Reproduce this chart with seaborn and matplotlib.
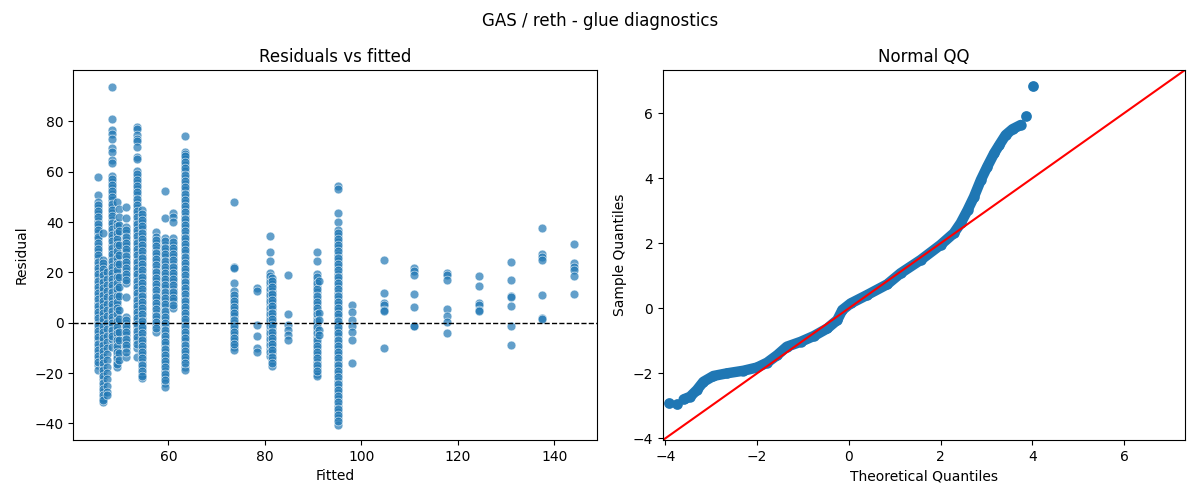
import matplotlib
matplotlib.use("Agg")
import matplotlib.pyplot as plt
import seaborn as sns
import pandas as pd

# ---------------- data: residuals vs fitted ----------------
fitted_levels = [45.5, 46.5, 47.3, 48.3, 49.3, 49.8, 51.2, 53.5, 54.5, 57.5,
                 59.3, 61.0, 63.5, 73.5, 78.3, 81.0, 81.5, 84.7, 90.9, 91.3,
                 95.1, 98.0, 104.6, 111.0, 117.7, 124.3, 131.0, 137.4, 144.0]

res_45_5 = [58.0, 50.7, 48.0, 45.5, 43.0, 40.6, 38.0, 35.5, 33.1, 30.4, 28.0, 25.6, 23.0, 20.5,
            18.1, 15.4, 13.0, 10.6, 8.0, 5.5, 3.1, 0.4, -2.0, -4.6, -7.0, -9.5, -12.1, -14.4,
            -17.0, -18.8,
            46.7, 44.2, 41.8, 39.3, 36.8, 34.2, 31.7, 29.2, 26.8, 24.3, 21.8, 19.3, 16.7, 14.2,
            11.8, 9.3, 6.8, 4.3, 1.7, -0.8, -3.3, -5.8, -8.3, -10.8, -13.2, -15.7]
res_46_5 = [35.5, 24.9, 22.4, 20.0, 17.5, 15.1, 12.4, 10.0, 7.6, 5.0, 2.5, 0.1, -2.6, -5.0,
            -7.4, -10.0, -12.5, -15.0, -17.4, -20.0, -22.5, -25.1, -27.4, -29.9, -31.4,
            23.7, 21.2, 18.8, 16.3, 13.7, 11.2, 8.8, 6.3, 3.7, 1.3, -1.2, -3.8, -6.2, -8.7,
            -11.3, -13.7, -16.2, -18.7, -21.3, -23.8, -26.2, -28.6, -30.7]
res_47_3 = [20.1, 17.4, 15.0, 12.5, 10.1, 7.4, 5.0, 2.6, 0.0, -2.5, -5.1, -7.5, -10.0, -12.4,
            -15.0, -17.6, -20.0, -22.4, -25.0, -27.5, -28.7]
res_48_3 = [93.6, 81.0, 76.5, 75.0, 72.8, 69.5, 68.0, 64.5, 63.3, 58.4, 56.0, 53.5, 51.1, 48.6,
            46.0, 43.5, 41.0, 38.6, 36.1, 33.5, 31.0, 28.6, 26.0, 23.5, 21.1, 18.5, 16.0, 13.6,
            11.0, 8.5, 6.1, 3.5, 1.0, -1.5, -4.0, -6.5, -9.5,
            57.2, 54.7, 52.3, 49.8, 47.3, 44.7, 42.3, 39.8, 37.3, 34.8, 32.3, 29.8, 27.3, 24.7,
            22.3, 19.8, 17.3, 14.8, 12.3, 9.7, 7.3, 4.8, 2.2, -0.3, -2.8, -5.2]
res_49_3 = [48.1, 39.6, 37.0, 34.6, 32.0, 29.5, 27.1, 24.5, 22.0, 19.6, 17.0, 14.5, 12.1, 9.5,
            7.0, 4.6, 2.0, -0.5, -3.0, -5.5, -8.0, -10.5, -13.0, -15.5, -17.5,
            38.3, 35.8, 33.3, 30.8, 28.3, 25.8, 23.2, 20.8, 18.3, 15.7, 13.3, 10.8, 8.3, 5.8,
            3.3, 0.8, -1.7, -4.2, -6.8, -9.2, -11.7, -14.2, -16.5]
res_49_8 = [45.0, 42.0, 39.0, 36.5, 31.0, 27.0, 23.5, 18.0, 14.0, 10.5, 5.0, 1.5, -3.5, -7.0,
            -12.0, -15.0]
res_51_2 = [46.0, 41.6, 38.0, 35.5, 33.0, 30.6, 28.0, 25.5, 23.1, 20.5, 18.0, 15.6, 10.3, 2.4,
            0.0, -2.5, -5.0, -7.6, -10.0, -13.5,
            36.8, 34.2, 31.8, 29.3, 26.7, 24.3, 21.8, 19.2, 16.8, 1.2, -1.3, -3.7, -6.3, -8.8,
            -11.7]
res_53_5 = [77.9, 77.0, 74.5, 73.0, 72.0, 70.0, 66.0, 65.0, 60.1, 58.0, 55.5, 53.0, 50.6, 48.0,
            45.5, 43.1, 40.5, 38.0, 35.6, 33.0, 30.5, 28.1, 25.5, 23.0, 20.6, 18.0, 15.5, 13.1,
            10.5, 8.0, 5.6, 3.0, 0.5, -1.9, -4.5, -7.0, -10.0, -13.5,
            59.0, 56.7, 54.2, 51.8, 49.3, 46.7, 44.3, 41.8, 39.2, 36.8, 34.3, 31.7, 29.3, 26.8,
            24.2, 21.8, 19.3, 16.7, 14.3, 11.8, 9.2, 6.8, 4.3, 1.7, -0.7, -3.2, -5.8, -8.5]
res_54_5 = [44.8, 42.0, 39.5, 37.1, 34.5, 32.0, 29.6, 27.0, 24.5, 22.1, 19.5, 17.0, 14.6, 12.0,
            9.5, 7.1, 4.5, 2.0, -0.4, -3.0, -5.5, -8.0, -10.5, -13.0, -15.5, -18.0, -20.5, -22.0,
            43.3, 40.8, 38.3, 35.8, 33.3, 30.8, 28.3, 25.8, 23.3, 20.8, 18.3, 15.8, 13.3, 10.8,
            8.3, 5.8, 3.3, 0.8, -1.7, -4.2, -6.7, -9.2, -11.7, -14.2, -16.7, -19.2, -21.3]
res_57_5 = [36.2, 34.2, 31.6, 29.0, 26.5, 24.1, 21.5, 19.0, 16.6, 14.0, 11.5, 9.1, 6.5, 4.0,
            1.6, -1.0, -3.6,
            32.9, 30.3, 27.8, 25.3, 22.8, 20.3, 17.8, 15.3, 12.8, 10.3, 7.8, 5.3, 2.8, 0.3, -2.3]
res_59_3 = [52.3, 41.5, 33.5, 31.0, 28.6, 26.0, 23.5, 21.1, 18.5, 16.0, 13.6, 11.0, 8.5, 6.1,
            3.5, 1.0, -1.4, -4.0, -6.5, -9.0, -11.5, -14.0, -16.5, -19.0, -21.5, -24.0, -25.5,
            32.3, 29.8, 27.3, 24.7, 22.3, 19.8, 17.3, 14.8, 12.3, 9.7, 7.3, 4.8, 2.3, -0.2,
            -2.7, -5.2, -7.7, -10.3, -12.7, -15.2, -17.7, -20.3, -22.7]
res_61_0 = [43.6, 42.0, 40.1, 33.5, 31.0, 28.5, 26.1, 23.5, 21.0, 18.6, 16.0, 13.5, 11.1, 8.5, 5.7,
            32.2, 29.7, 27.3, 24.8, 22.3, 19.8, 17.3, 14.8, 12.3, 9.8, 7.1]
res_63_5 = [74.2, 67.7, 67.0, 65.0, 62.5, 60.1, 57.5, 55.0, 52.6, 50.0, 47.5, 45.1, 42.5, 40.0,
            37.6, 35.0, 32.5, 30.1, 27.5, 25.0, 22.6, 20.0, 17.5, 15.1, 12.5, 10.0, 7.6, 5.0,
            2.5, 0.1, -2.5, -5.0, -7.4, -10.0, -12.5, -15.0, -17.4, -18.8,
            66.2, 63.8, 61.3, 58.8, 56.2, 53.8, 51.3, 48.8, 46.3, 43.8, 41.3, 38.8, 36.3, 33.8,
            31.3, 28.8, 26.3, 23.8, 21.3, 18.8, 16.3, 13.8, 11.3, 8.8, 6.3, 3.8, 1.3, -1.2,
            -3.7, -6.2, -8.7, -11.2, -13.7, -16.2]
res_73_5 = [48.1, 22.2, 21.8, 15.8, 12.4, 10.0, 7.5, 5.1, 2.5, 0.0, -2.5, -5.0, -7.4, -9.5, -11.0,
            11.2, 8.7, 6.3, 3.8, 1.2, -1.2, -3.8, -6.2, -8.4]
res_78_3 = [13.8, 12.4, -0.8, -5.4, -10.1, -11.7]
res_81_0 = [34.6, 28.0, 24.4, 19.7, 17.2, 14.8, 12.2, 9.7, 7.3, 4.8, 2.2, -0.3, -2.7, -5.2,
            -7.8, -10.3, -13.4,
            18.4, 16.0, 13.5, 11.0, 8.5, 6.0, 3.5, 1.0, -1.5, -4.0, -6.5, -9.0, -11.6]
res_81_5 = [17.7, 15.3, 12.7, 10.2, 7.8, 5.3, 2.7, 0.2, -2.3, -4.8, -7.3, -9.7, -12.2, -14.8, -17.1,
            16.5, 14.0, 11.5, 9.0, 6.5, 4.0, 1.5, -1.0, -3.5, -6.0, -8.5, -11.0, -13.5, -16.0]
res_84_7 = [19.0, 3.5, -0.8, -2.8, -5.0, -7.0]
res_90_9 = [27.9, 24.6, 19.5, 17.0, 14.5, 12.1, 9.5, 7.0, 4.6, 2.0, -0.5, -3.0, -5.5, -8.0,
            -10.5, -13.0, -15.5, -18.0, -20.5, -21.0,
            18.3, 15.8, 13.3, 10.8, 8.3, 5.8, 3.3, 0.8, -1.7, -4.2, -6.7, -9.2, -11.7, -14.2,
            -16.7, -19.2]
res_91_3 = [16.7, 3.8, 1.0, -2.8, -4.8]
res_95_1 = [54.4, 53.1, 43.6, 40.2, 37.0, 34.5, 32.1, 29.5, 27.0, 24.6, 22.0, 19.5, 17.1, 14.5,
            12.0, 9.6, 7.0, 4.5, 2.1, -0.5, -3.0, -5.4, -8.0, -10.5, -12.9, -15.5, -18.0, -20.4,
            -23.0, -25.5, -27.9, -30.5, -33.0, -35.4, -38.0, -40.5,
            35.8, 33.3, 30.8, 28.3, 25.8, 23.3, 20.8, 18.3, 15.8, 13.3, 10.8, 8.3, 5.8, 3.3,
            0.8, -1.7, -4.2, -6.7, -9.2, -11.7, -14.2, -16.7, -19.2, -21.7, -24.2, -26.7,
            -29.2, -31.7, -34.2, -36.7, -39.2]
res_98_0 = [7.0, 4.2, 1.2, -1.2, -3.8, -6.9, -15.9]
res_104_6 = [25.0, 11.8, 8.0, 7.0, 5.0, 4.5, -10.1]
res_111_0 = [21.7, 20.4, 19.0, 11.4, 6.2, -1.2, -1.5]
res_117_7 = [19.8, 19.1, 16.8, 5.4, 2.5, 0.2, -4.1]
res_124_3 = [18.7, 14.6, 7.8, 7.0, 5.0, 4.5]
res_131_0 = [24.1, 17.1, 10.5, 10.2, 6.6, -1.3, -8.7]
res_137_4 = [37.6, 27.3, 26.0, 25.0, 11.0, 1.9, 1.4]
res_144_0 = [31.3, 23.7, 22.1, 21.0, 18.7, 11.4]

residual_columns = [res_45_5, res_46_5, res_47_3, res_48_3, res_49_3, res_49_8, res_51_2,
                    res_53_5, res_54_5, res_57_5, res_59_3, res_61_0, res_63_5, res_73_5,
                    res_78_3, res_81_0, res_81_5, res_84_7, res_90_9, res_91_3, res_95_1,
                    res_98_0, res_104_6, res_111_0, res_117_7, res_124_3, res_131_0,
                    res_137_4, res_144_0]

# ---------------- data: normal QQ ----------------
qq_theoretical = [-3.60, -3.46, -3.31, -3.17, -2.95, -2.66, -2.30, -2.00, -1.78, -1.56, -1.35,
                  -1.05, -0.76, -0.47, -0.25, -0.14, 0.04, 0.40, 0.84, 1.13, 1.57, 2.00, 2.29,
                  2.44, 2.59, 2.73, 2.88, 3.02, 3.17, 3.28, 3.42, 3.57, 3.75]
qq_sample = [-2.80, -2.72, -2.51, -2.26, -2.08, -2.00, -1.92, -1.82, -1.67, -1.44, -1.18,
             -1.03, -0.85, -0.62, -0.36, -0.05, 0.15, 0.41, 0.74, 1.08, 1.49, 1.95, 2.31,
             2.62, 3.02, 3.43, 3.95, 4.36, 4.77, 5.02, 5.33, 5.51, 5.64]
qq_tail_theoretical = [-3.93, -3.75, 3.86, 4.02]
qq_tail_sample = [-2.92, -2.94, 5.92, 6.84]

# ---------------- build frames ----------------
rows = []
for f, col in zip(fitted_levels, residual_columns):
    for r in col:
        rows.append((f, r))
df = pd.DataFrame(rows, columns=["Fitted", "Residual"])
qq = pd.DataFrame({"theo": qq_theoretical, "samp": qq_sample})
qq_tail = pd.DataFrame({"theo": qq_tail_theoretical, "samp": qq_tail_sample})

blue = "#1f77b4"

fig = plt.figure(figsize=(12, 5), dpi=100)
ax1 = fig.add_axes([0.0611, 0.12, 0.4367, 0.74])
ax2 = fig.add_axes([0.5525, 0.12, 0.435, 0.74])

sns.scatterplot(data=df, x="Fitted", y="Residual", ax=ax1, color=blue, alpha=0.7,
                s=40, edgecolor="white", linewidth=0.5)
ax1.axhline(0, color="black", linestyle="--", linewidth=1)
ax1.set_xlim(40.3, 148.9)
ax1.set_ylim(-46.6, 100.4)
ax1.set_xticks([60, 80, 100, 120, 140])
ax1.set_yticks([-40, -20, 0, 20, 40, 60, 80])
ax1.set_title("Residuals vs fitted", fontsize=12)
ax1.set_xlabel("Fitted")
ax1.set_ylabel("Residual")

lims = [-4.05, 7.33]
sns.lineplot(data=qq, x="theo", y="samp", ax=ax2, sort=False, estimator=None,
             color=blue, linewidth=7.5, marker="o", markersize=7.5,
             markeredgewidth=0, solid_capstyle="round")
sns.scatterplot(data=qq_tail, x="theo", y="samp", ax=ax2, color=blue, s=60,
                edgecolor=blue, linewidth=0)
ax2.plot(lims, lims, color="red", linewidth=1.5)
ax2.set_xlim(lims)
ax2.set_ylim(lims)
ax2.set_xticks([-4, -2, 0, 2, 4, 6])
ax2.set_yticks([-4, -2, 0, 2, 4, 6])
ax2.set_title("Normal QQ", fontsize=12)
ax2.set_xlabel("Theoretical Quantiles")
ax2.set_ylabel("Sample Quantiles")

fig.suptitle("GAS / reth - glue diagnostics", fontsize=12, y=0.975)

fig.savefig("out.png", dpi=100)
